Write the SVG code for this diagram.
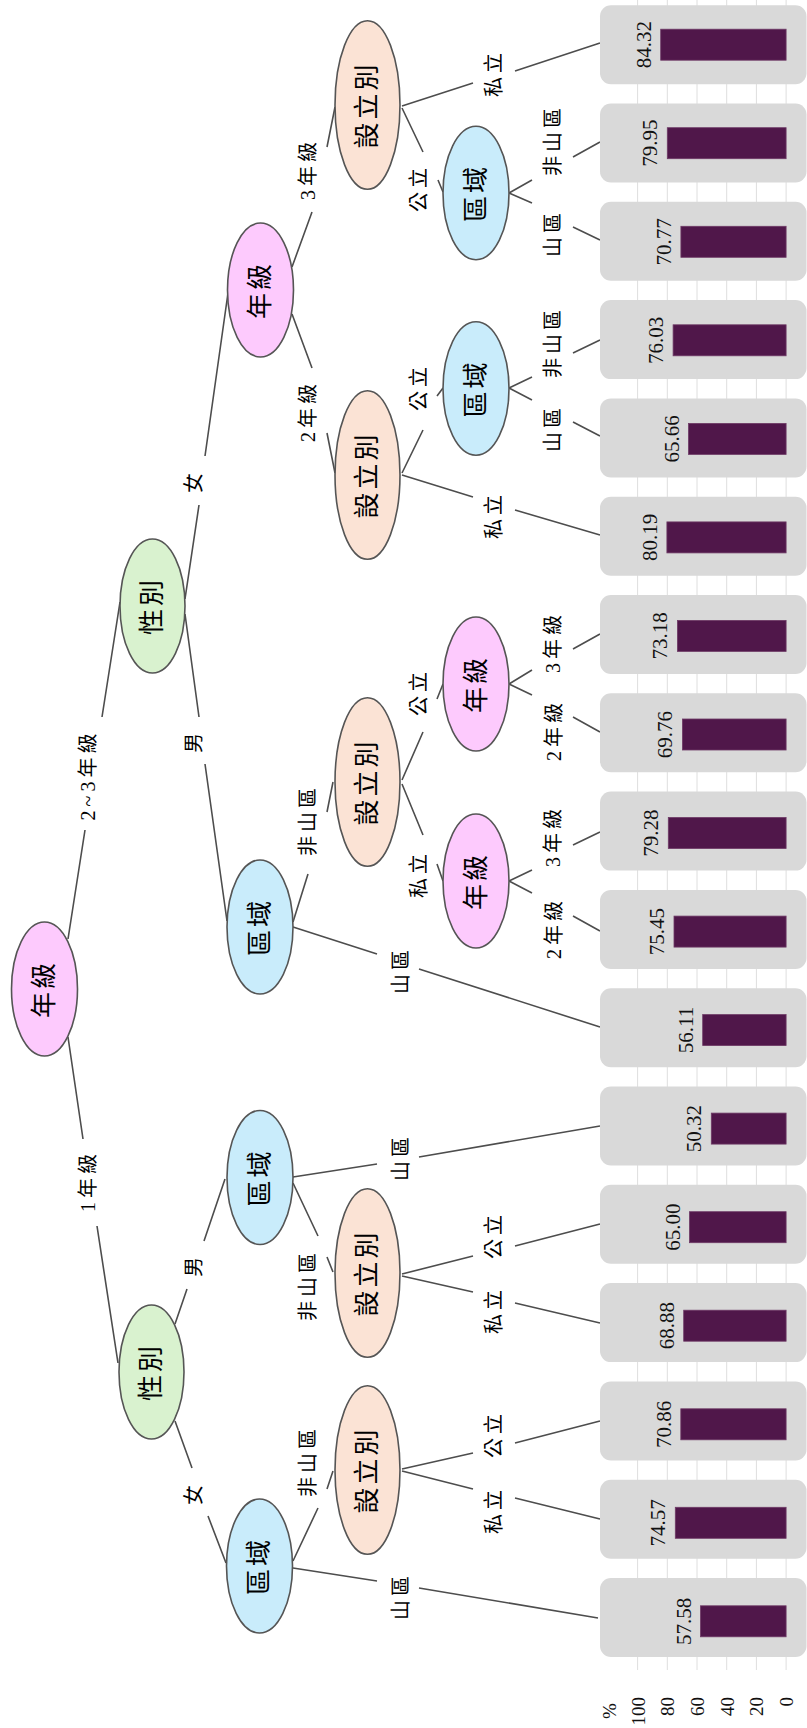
<svg xmlns="http://www.w3.org/2000/svg" width="807" height="1728" viewBox="0 0 807 1728">
<style>
.edge{stroke:#4d4d4d;stroke-width:1.6;fill:none;stroke-linecap:butt}
.nd{stroke:#555;stroke-width:1.6}
.pk{fill:#fdcafd}.gr{fill:#d9f2cf}.bl{fill:#c9ecfb}.pc{fill:#fbe3d5}
.nt{font-family:"Liberation Serif","Noto Sans CJK TC",serif;font-size:26px;letter-spacing:3px;text-anchor:middle;dominant-baseline:central;fill:#000}
.el{font-family:"Liberation Serif","Noto Sans CJK TC",serif;font-size:20px;letter-spacing:4px;text-anchor:middle;dominant-baseline:central;fill:#000}
.grid{stroke:#dedede;stroke-width:1}
.box{fill:#d9d9d9}
.bar{fill:#50174a;stroke:#6e3a66;stroke-width:0.8}
.val{font-family:"Liberation Serif",serif;font-size:21px;text-anchor:middle;fill:#111}
.ax{font-family:"Liberation Serif",serif;font-size:19px;fill:#111}
</style>
<rect width="807" height="1728" fill="#fff"/>
<g id="grid">
<line class="grid" x1="637.6" y1="0" x2="637.6" y2="1670"/>
<line class="grid" x1="667.3" y1="0" x2="667.3" y2="1670"/>
<line class="grid" x1="697" y1="0" x2="697" y2="1670"/>
<line class="grid" x1="726.7" y1="0" x2="726.7" y2="1670"/>
<line class="grid" x1="756.4" y1="0" x2="756.4" y2="1670"/>
<line class="grid" x1="786.1" y1="0" x2="786.1" y2="1670"/>
</g>
<g id="axis">
<text class="ax" transform="translate(616,1711) rotate(-90)" text-anchor="middle">%</text>
<text class="ax" transform="translate(644.6,1697) rotate(-90)" text-anchor="end">100</text>
<text class="ax" transform="translate(674.3,1697) rotate(-90)" text-anchor="end">80</text>
<text class="ax" transform="translate(704,1697) rotate(-90)" text-anchor="end">60</text>
<text class="ax" transform="translate(733.7,1697) rotate(-90)" text-anchor="end">40</text>
<text class="ax" transform="translate(763.4,1697) rotate(-90)" text-anchor="end">20</text>
<text class="ax" transform="translate(793.1,1697) rotate(-90)" text-anchor="end">0</text>
</g>
<g id="edges">
<path class="edge" d="M68,939 L85,830 M102,717 L120,602"/>
<path class="edge" d="M68,1037 L83,1139 M97,1226 L118,1363"/>
<path class="edge" d="M185,599 L199,505 M205,456 L228,293"/>
<path class="edge" d="M185,614 L199,717 M205,764 L227,921"/>
<path class="edge" d="M175,1324 L187,1289 M204,1241 L225,1179"/>
<path class="edge" d="M175,1421 L192,1468 M208,1516 L226,1563"/>
<path class="edge" d="M292,267 L312,212 M327,147 L335,107"/>
<path class="edge" d="M292,314 L312,368 M327,433 L335,473"/>
<path class="edge" d="M293,922 L308,874 M327,812 L333,782"/>
<path class="edge" d="M293,927 L377,954 M419,969 L600,1027"/>
<path class="edge" d="M402,108 L423,152 M438,180 L443,192"/>
<path class="edge" d="M402,106 L473,83 M515,71 L600,43"/>
<path class="edge" d="M509,193 L532,180 M573,157 L600,142"/>
<path class="edge" d="M509,193 L532,203 M573,227 L600,240"/>
<path class="edge" d="M402,473 L423,430 M437,396 L443,388"/>
<path class="edge" d="M402,475 L473,497 M515,510 L600,535"/>
<path class="edge" d="M509,388 L532,377 M573,353 L600,340"/>
<path class="edge" d="M509,388 L532,400 M573,422 L600,436"/>
<path class="edge" d="M402,780 L423,732 M437,699 L443,684"/>
<path class="edge" d="M402,784 L423,835 M437,864 L443,881"/>
<path class="edge" d="M509,684 L532,670 M573,649 L600,634"/>
<path class="edge" d="M509,684 L532,695 M573,717 L600,732"/>
<path class="edge" d="M509,881 L532,870 M573,845 L600,832"/>
<path class="edge" d="M509,881 L532,893 M573,916 L600,931"/>
<path class="edge" d="M293,1177 L377,1164 M419,1157 L600,1126"/>
<path class="edge" d="M293,1183 L318,1236 M327,1257 L333,1272"/>
<path class="edge" d="M402,1274 L473,1256 M515,1246 L600,1224"/>
<path class="edge" d="M402,1276 L473,1292 M515,1303 L600,1323"/>
<path class="edge" d="M293,1561 L318,1508 M327,1489 L333,1471"/>
<path class="edge" d="M402,1469 L473,1453 M515,1443 L600,1421"/>
<path class="edge" d="M402,1471 L473,1489 M515,1498 L600,1519"/>
<path class="edge" d="M293,1568 L377,1581 M419,1588 L598,1618"/>
</g>
<g id="edge-labels">
<text class="el" x="88" y="775" transform="rotate(-90 88 775)">2~3年級</text>
<text class="el" x="88" y="1181" transform="rotate(-90 88 1181)">1年級</text>
<text class="el" x="194" y="481" transform="rotate(-90 194 481)">女</text>
<text class="el" x="194" y="741" transform="rotate(-90 194 741)">男</text>
<text class="el" x="194" y="1265" transform="rotate(-90 194 1265)">男</text>
<text class="el" x="194" y="1493" transform="rotate(-90 194 1493)">女</text>
<text class="el" x="308" y="169" transform="rotate(-90 308 169)">3年級</text>
<text class="el" x="308" y="411" transform="rotate(-90 308 411)">2年級</text>
<text class="el" x="308" y="820" transform="rotate(-90 308 820)">非山區</text>
<text class="el" x="401" y="970" transform="rotate(-90 401 970)">山區</text>
<text class="el" x="419" y="188" transform="rotate(-90 419 188)">公立</text>
<text class="el" x="494" y="73" transform="rotate(-90 494 73)">私立</text>
<text class="el" x="553" y="140" transform="rotate(-90 553 140)">非山區</text>
<text class="el" x="553" y="233" transform="rotate(-90 553 233)">山區</text>
<text class="el" x="419" y="387" transform="rotate(-90 419 387)">公立</text>
<text class="el" x="494" y="515" transform="rotate(-90 494 515)">私立</text>
<text class="el" x="553" y="342" transform="rotate(-90 553 342)">非山區</text>
<text class="el" x="553" y="428" transform="rotate(-90 553 428)">山區</text>
<text class="el" x="419" y="692" transform="rotate(-90 419 692)">公立</text>
<text class="el" x="419" y="874" transform="rotate(-90 419 874)">私立</text>
<text class="el" x="553" y="642" transform="rotate(-90 553 642)">3年級</text>
<text class="el" x="554" y="730" transform="rotate(-90 554 730)">2年級</text>
<text class="el" x="553" y="836" transform="rotate(-90 553 836)">3年級</text>
<text class="el" x="554" y="928" transform="rotate(-90 554 928)">2年級</text>
<text class="el" x="401" y="1157" transform="rotate(-90 401 1157)">山區</text>
<text class="el" x="308" y="1285" transform="rotate(-90 308 1285)">非山區</text>
<text class="el" x="494" y="1235" transform="rotate(-90 494 1235)">公立</text>
<text class="el" x="494" y="1310" transform="rotate(-90 494 1310)">私立</text>
<text class="el" x="308" y="1461" transform="rotate(-90 308 1461)">非山區</text>
<text class="el" x="494" y="1434" transform="rotate(-90 494 1434)">公立</text>
<text class="el" x="494" y="1510" transform="rotate(-90 494 1510)">私立</text>
<text class="el" x="401" y="1596" transform="rotate(-90 401 1596)">山區</text>
</g>
<g id="n0"><ellipse class="nd pk" cx="44.5" cy="989" rx="33" ry="67"/><text class="nt" x="44.5" y="989" transform="rotate(-90 44.5 989)">年級</text></g>
<g id="n1"><ellipse class="nd gr" cx="152.5" cy="606" rx="32.5" ry="67"/><text class="nt" x="152.5" y="606" transform="rotate(-90 152.5 606)">性別</text></g>
<g id="n2"><ellipse class="nd gr" cx="151.5" cy="1372" rx="32.5" ry="67"/><text class="nt" x="151.5" y="1372" transform="rotate(-90 151.5 1372)">性別</text></g>
<g id="n3"><ellipse class="nd pk" cx="260.5" cy="290" rx="33" ry="67"/><text class="nt" x="260.5" y="290" transform="rotate(-90 260.5 290)">年級</text></g>
<g id="n4"><ellipse class="nd bl" cx="260" cy="927" rx="33" ry="67"/><text class="nt" x="260" y="927" transform="rotate(-90 260 927)">區域</text></g>
<g id="n5"><ellipse class="nd pc" cx="367.5" cy="105" rx="32.5" ry="84.3"/><text class="nt" x="367.5" y="105" transform="rotate(-90 367.5 105)">設立別</text></g>
<g id="n6"><ellipse class="nd pc" cx="367.5" cy="475" rx="32.5" ry="84.3"/><text class="nt" x="367.5" y="475" transform="rotate(-90 367.5 475)">設立別</text></g>
<g id="n7"><ellipse class="nd bl" cx="476" cy="193" rx="33" ry="66.7"/><text class="nt" x="476" y="193" transform="rotate(-90 476 193)">區域</text></g>
<g id="n8"><ellipse class="nd bl" cx="476" cy="388.5" rx="33" ry="66.7"/><text class="nt" x="476" y="388.5" transform="rotate(-90 476 388.5)">區域</text></g>
<g id="n9"><ellipse class="nd pc" cx="367.5" cy="782" rx="32.5" ry="84.3"/><text class="nt" x="367.5" y="782" transform="rotate(-90 367.5 782)">設立別</text></g>
<g id="n10"><ellipse class="nd pk" cx="476" cy="684" rx="33" ry="67"/><text class="nt" x="476" y="684" transform="rotate(-90 476 684)">年級</text></g>
<g id="n11"><ellipse class="nd pk" cx="476" cy="881" rx="33" ry="67"/><text class="nt" x="476" y="881" transform="rotate(-90 476 881)">年級</text></g>
<g id="n12"><ellipse class="nd bl" cx="260" cy="1177.5" rx="33" ry="67"/><text class="nt" x="260" y="1177.5" transform="rotate(-90 260 1177.5)">區域</text></g>
<g id="n13"><ellipse class="nd bl" cx="259.5" cy="1566" rx="33" ry="67"/><text class="nt" x="259.5" y="1566" transform="rotate(-90 259.5 1566)">區域</text></g>
<g id="n14"><ellipse class="nd pc" cx="367.5" cy="1273" rx="32.5" ry="84.3"/><text class="nt" x="367.5" y="1273" transform="rotate(-90 367.5 1273)">設立別</text></g>
<g id="n15"><ellipse class="nd pc" cx="367.5" cy="1470" rx="32.5" ry="84.3"/><text class="nt" x="367.5" y="1470" transform="rotate(-90 367.5 1470)">設立別</text></g>
<g id="leaf0"><rect class="box" x="600" y="5.2" width="206.5" height="79" rx="11"/><rect class="bar" x="660.7" y="29.2" width="125.4" height="31"/><text class="val" transform="translate(650.7,44.7) rotate(-90)">84.32</text></g>
<g id="leaf1"><rect class="box" x="600" y="103.5" width="206.5" height="79" rx="11"/><rect class="bar" x="667.3" y="127.7" width="118.8" height="31"/><text class="val" transform="translate(657.3,143.2) rotate(-90)">79.95</text></g>
<g id="leaf2"><rect class="box" x="600" y="201.8" width="206.5" height="79" rx="11"/><rect class="bar" x="680.9" y="226.3" width="105.2" height="31"/><text class="val" transform="translate(670.9,241.8) rotate(-90)">70.77</text></g>
<g id="leaf3"><rect class="box" x="600" y="300.1" width="206.5" height="79" rx="11"/><rect class="bar" x="673.1" y="324.8" width="113" height="31"/><text class="val" transform="translate(663.1,340.3) rotate(-90)">76.03</text></g>
<g id="leaf4"><rect class="box" x="600" y="398.4" width="206.5" height="79" rx="11"/><rect class="bar" x="688.5" y="423.4" width="97.6" height="31"/><text class="val" transform="translate(678.5,438.9) rotate(-90)">65.66</text></g>
<g id="leaf5"><rect class="box" x="600" y="496.7" width="206.5" height="79" rx="11"/><rect class="bar" x="666.9" y="521.9" width="119.2" height="31"/><text class="val" transform="translate(656.9,537.4) rotate(-90)">80.19</text></g>
<g id="leaf6"><rect class="box" x="600" y="595" width="206.5" height="79" rx="11"/><rect class="bar" x="677.4" y="620.4" width="108.7" height="31"/><text class="val" transform="translate(667.4,635.9) rotate(-90)">73.18</text></g>
<g id="leaf7"><rect class="box" x="600" y="693.3" width="206.5" height="79" rx="11"/><rect class="bar" x="682.4" y="719" width="103.7" height="31"/><text class="val" transform="translate(672.4,734.5) rotate(-90)">69.76</text></g>
<g id="leaf8"><rect class="box" x="600" y="791.6" width="206.5" height="79" rx="11"/><rect class="bar" x="668.3" y="817.5" width="117.8" height="31"/><text class="val" transform="translate(658.3,833) rotate(-90)">79.28</text></g>
<g id="leaf9"><rect class="box" x="600" y="889.9" width="206.5" height="79" rx="11"/><rect class="bar" x="674" y="916.1" width="112.1" height="31"/><text class="val" transform="translate(664,931.6) rotate(-90)">75.45</text></g>
<g id="leaf10"><rect class="box" x="600" y="988.2" width="206.5" height="79" rx="11"/><rect class="bar" x="702.7" y="1014.6" width="83.4" height="31"/><text class="val" transform="translate(692.7,1030.1) rotate(-90)">56.11</text></g>
<g id="leaf11"><rect class="box" x="600" y="1086.5" width="206.5" height="79" rx="11"/><rect class="bar" x="711.3" y="1113.1" width="74.8" height="31"/><text class="val" transform="translate(701.3,1128.6) rotate(-90)">50.32</text></g>
<g id="leaf12"><rect class="box" x="600" y="1184.8" width="206.5" height="79" rx="11"/><rect class="bar" x="689.5" y="1211.7" width="96.6" height="31"/><text class="val" transform="translate(679.5,1227.2) rotate(-90)">65.00</text></g>
<g id="leaf13"><rect class="box" x="600" y="1283.1" width="206.5" height="79" rx="11"/><rect class="bar" x="683.7" y="1310.2" width="102.4" height="31"/><text class="val" transform="translate(673.7,1325.7) rotate(-90)">68.88</text></g>
<g id="leaf14"><rect class="box" x="600" y="1381.4" width="206.5" height="79" rx="11"/><rect class="bar" x="680.8" y="1408.8" width="105.3" height="31"/><text class="val" transform="translate(670.8,1424.3) rotate(-90)">70.86</text></g>
<g id="leaf15"><rect class="box" x="600" y="1479.7" width="206.5" height="79" rx="11"/><rect class="bar" x="675.3" y="1507.3" width="110.8" height="31"/><text class="val" transform="translate(665.3,1522.8) rotate(-90)">74.57</text></g>
<g id="leaf16"><rect class="box" x="600" y="1578" width="206.5" height="79" rx="11"/><rect class="bar" x="700.5" y="1605.8" width="85.6" height="31"/><text class="val" transform="translate(690.5,1621.3) rotate(-90)">57.58</text></g>
</svg>
